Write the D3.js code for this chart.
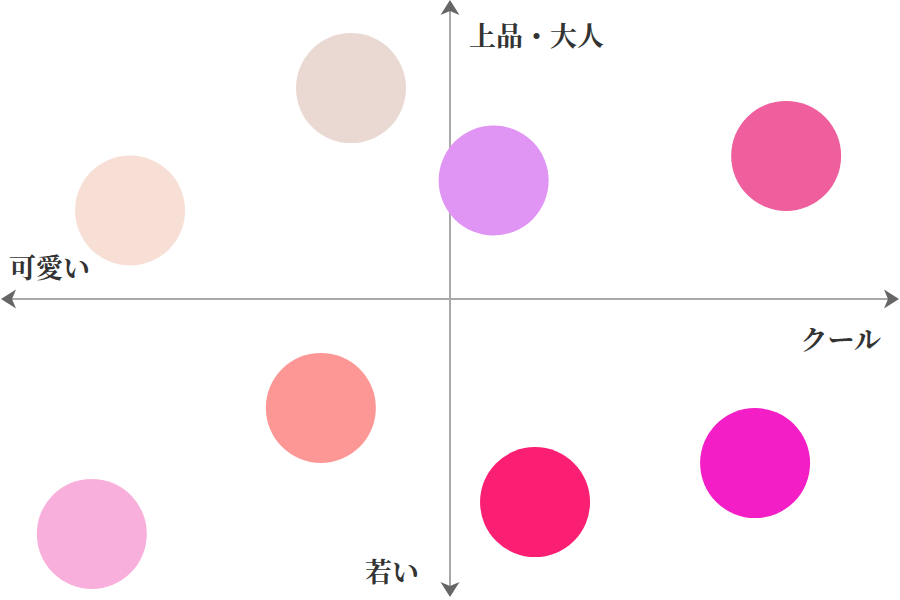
<!DOCTYPE html>
<html><head><meta charset="utf-8">
<script src="https://cdn.jsdelivr.net/npm/d3@7"></script>
<style>html,body{margin:0;padding:0;background:#fff;}svg{display:block;}</style>
</head><body>
<svg id="chart" width="900" height="600"></svg>
<script>
// Positioning map data (x: 可愛い(-) ↔ クール(+), y: 若い(-) ↔ 上品・大人(+))
const xValues = [-22.0, -71.1, 9.7, 74.7, -28.7, -79.6, 18.9, 67.8];
const yValues = [70.3, 29.5, 39.5, 47.7, -36.3, -78.3, -67.7, -54.7];
const colors = ["#ead8d2", "#f8dfd6", "#e094f4", "#ef5e9d", "#fd9796", "#f9afdc", "#fb1f73", "#f31ec5"];
const axisLabels = { top: "上品・大人", left: "可愛い", right: "クール", bottom: "若い" };

const W = 900, H = 600;
const svg = d3.select("#chart");
const x = d3.scaleLinear().domain([-100, 100]).range([0, 900]);
const y = d3.scaleLinear().domain([-100, 100]).range([599, -1]);
const r = 55;

const axisG = svg.append("g");
const lineColor = "#a9a9a9", headColor = "#666";
axisG.append("line").attr("x1", x(-100) + 12).attr("x2", x(100) - 12)
  .attr("y1", y(0)).attr("y2", y(0)).attr("stroke", lineColor).attr("stroke-width", 2);
axisG.append("line").attr("x1", x(0)).attr("x2", x(0))
  .attr("y1", y(100) + 8).attr("y2", y(-100) - 8).attr("stroke", lineColor).attr("stroke-width", 2);

function head(cx, cy, angle) {
  axisG.append("path")
    .attr("d", "M0,0 L-15,-9.5 L-11,0 L-15,9.5 Z")
    .attr("fill", headColor)
    .attr("transform", `translate(${cx},${cy}) rotate(${angle})`);
}
head(x(-100) + 1, y(0), 180);
head(x(100) - 1, y(0), 0);
head(x(0), y(100) + 1, -90);
head(x(0), y(-100) - 2, 90);

svg.append("g").selectAll("circle")
  .data(xValues.map((v, i) => ({ x: v, y: yValues[i], c: colors[i] })))
  .join("circle")
  .attr("cx", d => x(d.x)).attr("cy", d => y(d.y)).attr("r", r)
  .attr("fill", d => d.c);

const font = "'Noto Serif CJK JP','Noto Sans CJK JP',serif";
const t = svg.append("g").attr("font-family", font).attr("font-size", 27)
  .attr("font-weight", 700).attr("fill", "#333");
t.append("text").attr("x", 469).attr("y", 46).text(axisLabels.top);
t.append("text").attr("x", 9).attr("y", 278).text(axisLabels.left);
t.append("text").attr("x", 881).attr("y", 350).attr("text-anchor", "end").text(axisLabels.right);
t.append("text").attr("x", 419).attr("y", 582).attr("text-anchor", "end").text(axisLabels.bottom);
</script>
</body></html>
